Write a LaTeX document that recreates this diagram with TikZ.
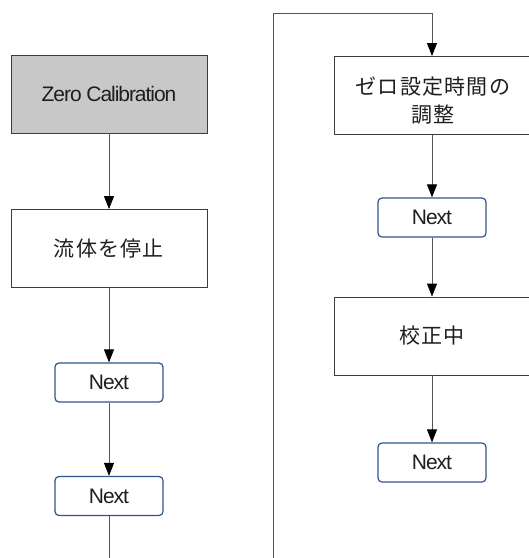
\documentclass[tikz,border=0pt]{standalone}
\usepackage{fontspec}
\setmainfont{Liberation Sans}[LetterSpace=-5]
\newfontfamily\jp{Noto Sans CJK JP}[LetterSpace=6]
\usetikzlibrary{arrows.meta}
\definecolor{boxgray}{HTML}{C8C8C8}
\definecolor{edgegray}{HTML}{3C3C3C}
\definecolor{linegray}{HTML}{555555}
\definecolor{navy}{HTML}{2F5487}
\definecolor{txt}{HTML}{1E1E1E}
\tikzset{
  stepbox/.style={draw=edgegray, line width=0.9pt, minimum width=196pt, minimum height=78pt, inner sep=0pt, text=txt, align=center, font=\fontsize{21}{28}\selectfont},
  graybox/.style={stepbox, fill=boxgray},
  nextbox/.style={draw=navy, line width=1.2pt, rounded corners=4pt, minimum width=108pt, minimum height=39pt, inner sep=0pt, text=txt, font=\fontsize{21}{24}\selectfont},
  plaintext/.style={inner sep=0pt, text=txt, align=center, font=\fontsize{21}{28}\selectfont},
  conn/.style={draw=linegray, line width=0.9pt},
  arr/.style={conn, -{Triangle[length=13pt, width=10pt, color=black]}}
}
\begin{document}
\begin{tikzpicture}[x=1pt, y=-1pt]
\useasboundingbox (0,0) rectangle (529,558);
% left column
\node[graybox] (zero) at (109,94) {Zero Calibration};
\node[stepbox] (stop) at (109,248.5) {\jp 流体を停止};
\node[nextbox] (n1) at (109,382.5) {Next};
\node[nextbox] (n2) at (109,496) {Next};
\coordinate (lend) at (109,558);
\draw[arr] (zero) -- (stop);
\draw[arr] (stop) -- (n1);
\draw[arr] (n1) -- (n2);
\draw[conn] (n2) -- (lend);
% right column
\node[stepbox] (adj) at (432,95.5) {};
\node[plaintext] (adjtxt) at (433,101) {\jp ゼロ設定時間の\\\jp 調整};
\node[nextbox] (n3) at (432,217.5) {Next};
\node[stepbox] (cal) at (432,336) {\jp 校正中};
\node[nextbox] (n4) at (432,462.5) {Next};
\coordinate (rstart) at (273,558);
\coordinate (rc1) at (273,13);
\coordinate (rc2) at (432,13);
\draw[arr] (rstart) -- (rc1) -- (rc2) -- (adj);
\draw[arr] (adj) -- (n3);
\draw[arr] (n3) -- (cal);
\draw[arr] (cal) -- (n4);
\end{tikzpicture}
\end{document}
